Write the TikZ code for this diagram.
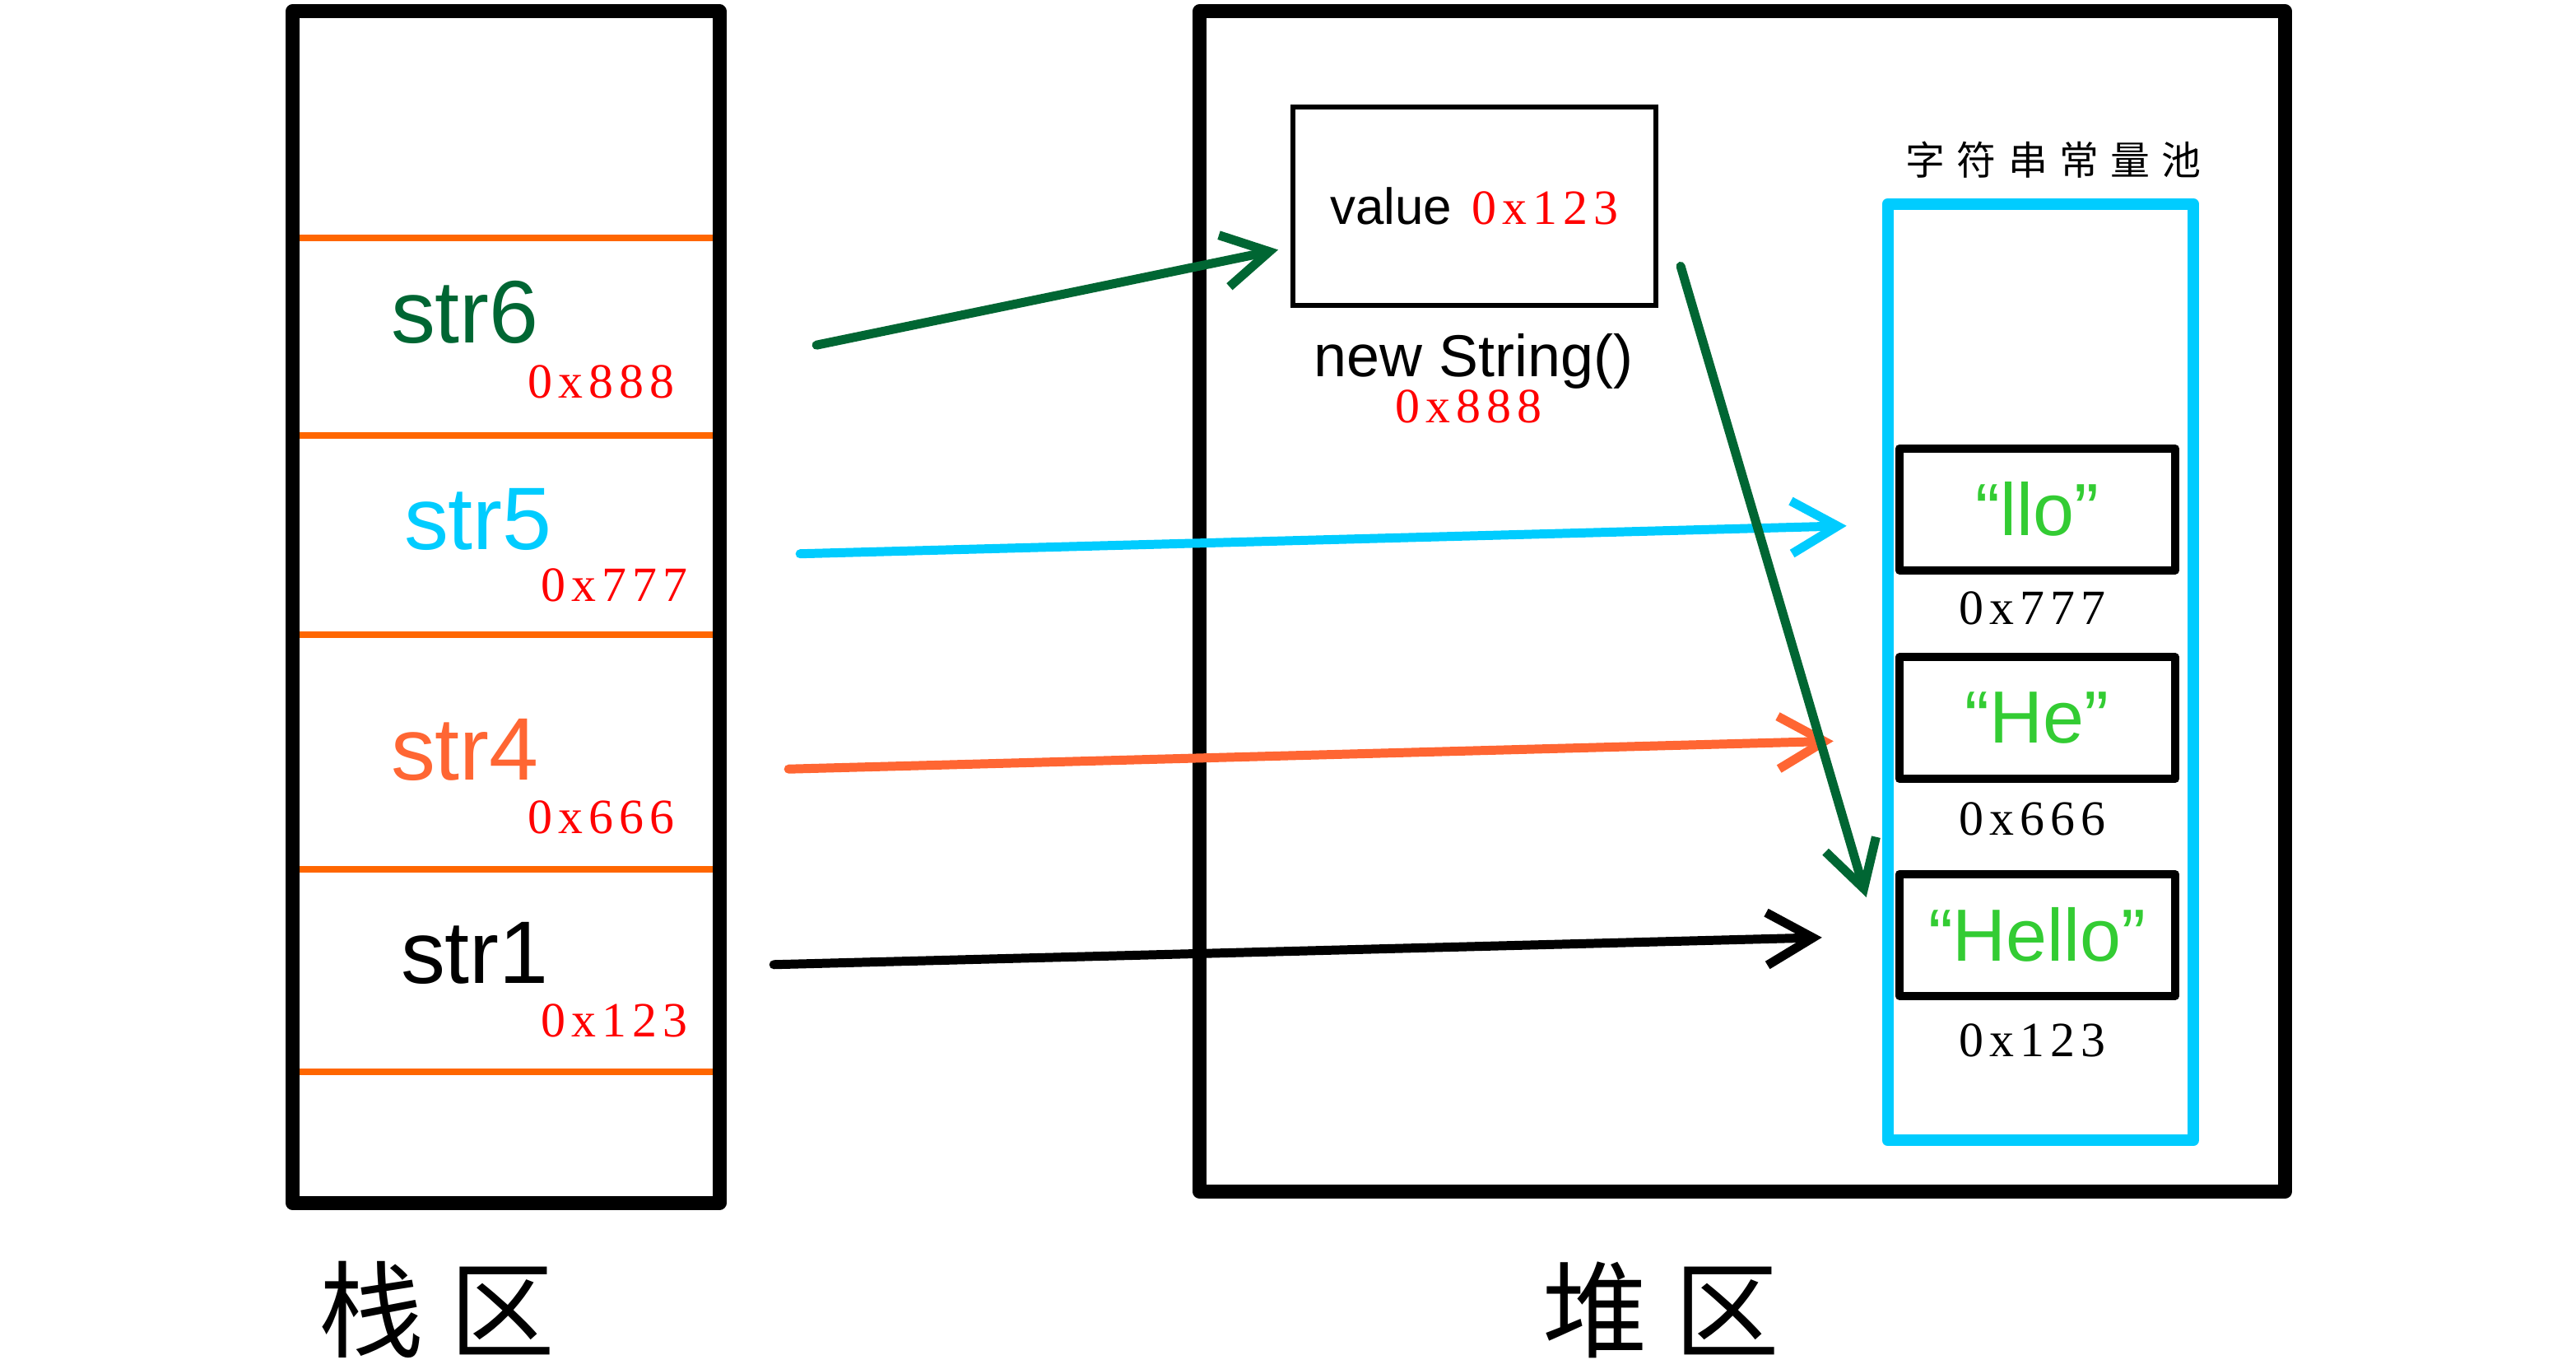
\documentclass[tikz,border=0pt]{standalone}
\usepackage{fontspec}
\setmainfont{Liberation Sans}
\newfontfamily\addrfont[LetterSpace=12]{Liberation Serif}
\newfontfamily\cjk{Noto Sans CJK SC}
\newfontfamily\cjkpool[LetterSpace=30]{Noto Sans CJK SC}
\usetikzlibrary{arrows.meta}

\definecolor{strgreen}{HTML}{006633}
\definecolor{strcyan}{HTML}{00CCFF}
\definecolor{strorange}{HTML}{FF6633}
\definecolor{slotorange}{HTML}{FF6600}
\definecolor{addrred}{HTML}{FF0000}
\definecolor{litgreen}{HTML}{33CC33}

\begin{document}
\begin{tikzpicture}[
    x=1pt, y=-1pt,
    frame/.style={draw, line width=8.5pt, line join=round},
    slot/.style={draw=slotorange, line width=4pt, line cap=round},
    var/.style={anchor=base, inner sep=0pt, font=\fontsize{54}{60}\selectfont},
    addr/.style={anchor=base, inner sep=0pt, text=addrred, font=\fontsize{30}{36}\addrfont},
    cell/.style={draw, line width=5pt, line join=round, minimum width=168pt, minimum height=74pt, inner sep=0pt, text=litgreen, font=\fontsize{45}{52}\selectfont},
    ptr/.style={line width=5.5pt, line cap=round, -{Straight Barb[length=28pt, width=32pt]}},
    area/.style={inner sep=0pt, font=\fontsize{64}{70}\cjk}
]
    \useasboundingbox (0,0) rectangle (1568,833);

    % Stack
    \foreach \y in {145,265,386,529,652}
        \draw[slot] (176,\y) -- (434,\y);
    \draw[frame] (178,7) rectangle (438,732);

    \node[var, text=strgreen]  (str6) at (283,208.5) {str6};
    \node[addr]                (a6)   at (366,242)   {0x888};
    \node[var, text=strcyan]   (str5) at (291,334.5) {str5};
    \node[addr]                (a5)   at (374,366)   {0x777};
    \node[var, text=strorange] (str4) at (283,474.5) {str4};
    \node[addr]                (a4)   at (366,507)   {0x666};
    \node[var]                 (str1) at (289,598.5) {str1};
    \node[addr]                (a1)   at (374,631)   {0x123};

    % Heap
    \draw[frame] (730,7) rectangle (1391,725);

    \node[draw, line width=3pt, minimum width=221pt, minimum height=121pt,
          font=\fontsize{31}{36}\selectfont] (obj) at (897.5,125.5)
          {value\hspace{12pt}{\color{addrred}\fontsize{30}{36}\addrfont 0x123}};
    \node[anchor=base, inner sep=0pt, font=\fontsize{36}{40}\selectfont]
          (objlbl) at (897,229) {new String()};
    \node[addr] (objaddr) at (894,257) {0x888};

    % String pool
    \node[draw=strcyan, line width=7pt, line join=round, minimum width=186pt,
          minimum height=570pt] (pool) at (1242,409) {};
    \node[inner sep=0pt, font=\fontsize{24}{28}\cjkpool] (poollbl) at (1250,97) {字符串常量池};

    \node[cell] (llo)   at (1240,310) {“llo”};
    \node[addr, text=black] (allo)   at (1237,380) {0x777};
    \node[cell] (he)    at (1240,437) {“He”};
    \node[addr, text=black] (ahe)    at (1237,508) {0x666};
    \node[cell] (hello) at (1240,569) {“Hello”};
    \node[addr, text=black] (ahello) at (1237,643) {0x123};

    % Pointers
    \coordinate (p6)  at (497,210);   \coordinate (q6)  at (778,152);
    \coordinate (p5)  at (487,337);   \coordinate (q5)  at (1124,320);
    \coordinate (p4)  at (480,468);   \coordinate (q4)  at (1116,451);
    \coordinate (p1)  at (471,587);   \coordinate (q1)  at (1109,570.5);
    \coordinate (pv)  at (1023,162);  \coordinate (qv)  at (1136,546);

    \draw[ptr, strcyan]   (p5) -- (q5);
    \draw[ptr, strorange] (p4) -- (q4);
    \draw[ptr]            (p1) -- (q1);
    \draw[ptr, strgreen]  (p6) -- (q6);
    \draw[ptr, strgreen]  (pv) -- (qv);

    % Area labels
    \node[area] (stacklbl) at (266,797)  {栈\hspace{16pt}区};
    \node[area] (heaplbl)  at (1011,797) {堆\hspace{16pt}区};
\end{tikzpicture}
\end{document}
